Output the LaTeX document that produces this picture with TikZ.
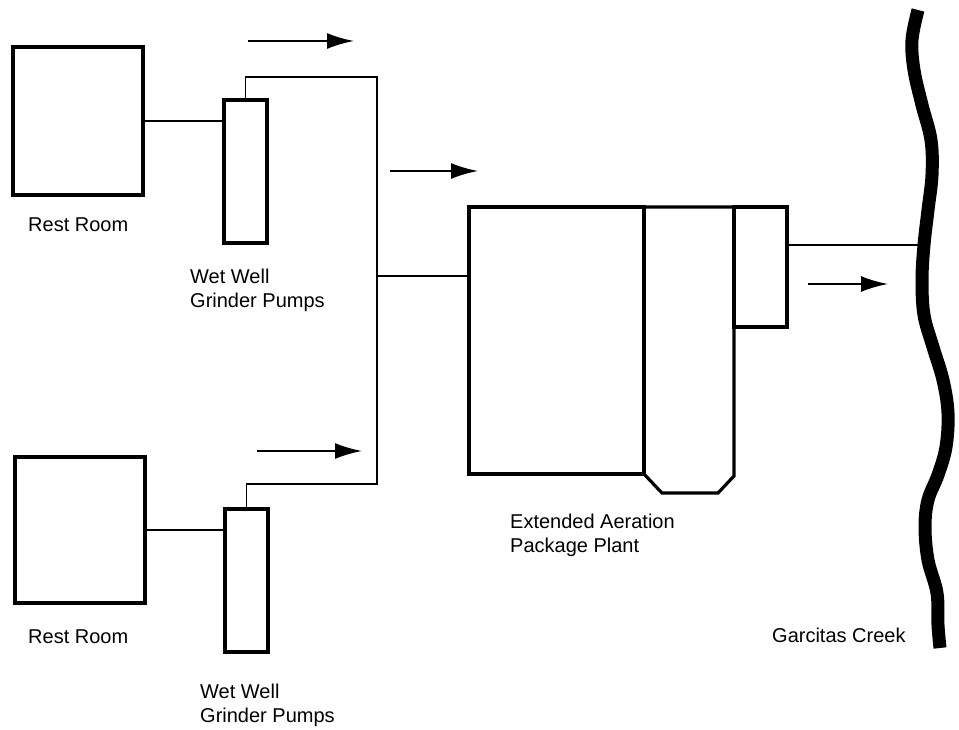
\documentclass[tikz,border=0pt]{standalone}
\usepackage{fontspec}
\setmainfont{Liberation Sans}
\usetikzlibrary{arrows.meta}
\begin{document}
\begin{tikzpicture}[x=1pt,y=-1pt,
  box/.style={draw,line width=3.2pt,inner sep=0pt},
  pipe/.style={line width=1.4pt},
  flow/.style={line width=2.2pt,-{Latex[length=27pt,width=16pt]}},
  lbl/.style={inner sep=0pt,anchor=base west,align=left,font=\fontsize{20}{24}\selectfont}]
\useasboundingbox (0,0) rectangle (959,730);
% rest rooms and wet wells
\node[box,minimum width=130pt,minimum height=148pt] (rr1) at (78,121) {};
\node[box,minimum width=43pt,minimum height=143pt] (ww1) at (245.5,171.5) {};
\node[box,minimum width=130pt,minimum height=146pt] (rr2) at (80,530) {};
\node[box,minimum width=43pt,minimum height=143pt] (ww2) at (246.5,580.5) {};
% plant
\node[box,minimum width=175pt,minimum height=267pt] (tank) at (556.5,340.5) {};
\node[box,minimum width=53pt,minimum height=120pt] (chl) at (760.5,267) {};
\coordinate (c1) at (644,207);
\coordinate (c2) at (734,207);
\coordinate (c3) at (734,476);
\coordinate (c4) at (718,493);
\coordinate (c5) at (662,493);
\coordinate (c6) at (644,474);
\draw[line width=3.2pt,line join=miter] (c1) -- (c2) -- (c3) -- (c4) -- (c5) -- (c6) -- cycle;
% creek
\draw[line width=13pt,line cap=butt] plot[smooth,tension=0.6] coordinates {
 (918,10) (912,40) (914,70) (922,105) (931,140) (932,175) (928,210) (924,245)
 (922,280) (924,315) (933,347) (943,380) (948,413) (946,447) (938,475) (928,500)
 (925,527) (928,560) (937,593) (938,625) (940,648)};
\coordinate (cr) at (922,245);
% pipes
\coordinate (p1) at (377,77);
\coordinate (p2) at (377,484);
\coordinate (j) at (377,276);
\draw[pipe] (rr1.east) -- (rr1.east -| ww1.west);
\draw[pipe] (rr2.east) -- (rr2.east -| ww2.west);
\draw[pipe] (ww1.north) |- (p1) -- (p2) -| (ww2.north);
\draw[pipe] (j) -- (j -| tank.west);
\draw[pipe] (chl.east |- cr) -- (cr);
% flow arrows
\coordinate (a1s) at (248,41);  \coordinate (a1e) at (354,41);
\coordinate (a2s) at (390,171); \coordinate (a2e) at (478,171);
\coordinate (a3s) at (257,451); \coordinate (a3e) at (362,451);
\coordinate (a4s) at (808,284); \coordinate (a4e) at (888,284);
\draw[flow] (a1s) -- (a1e);
\draw[flow] (a2s) -- (a2e);
\draw[flow] (a3s) -- (a3e);
\draw[flow] (a4s) -- (a4e);
% labels
\node[lbl] (t1) at (28,232) {Rest Room};
\node[lbl] (t2) at (190,307) {Wet Well\\Grinder Pumps};
\node[lbl] (t3) at (28,643) {Rest Room};
\node[lbl] (t4) at (200,722) {Wet Well\\Grinder Pumps};
\node[lbl] (t5) at (510,552) {Extended Aeration\\Package Plant};
\node[lbl] (t6) at (772,642) {Garcitas Creek};
\end{tikzpicture}
\end{document}
